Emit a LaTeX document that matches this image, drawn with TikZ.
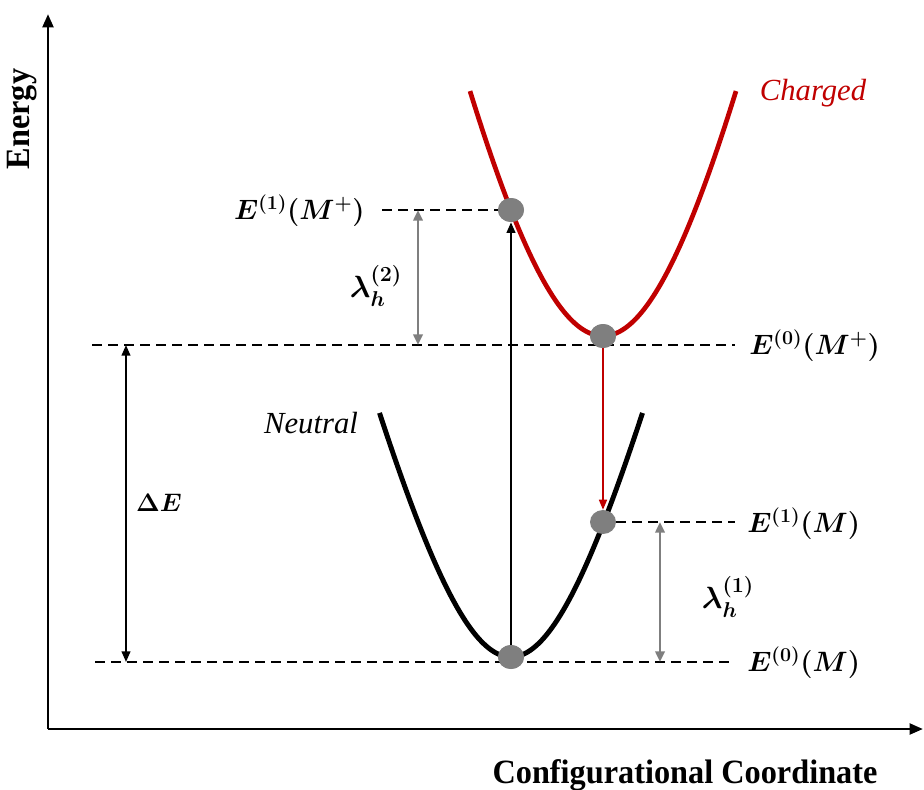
\documentclass[tikz,border=0pt]{standalone}
\usepackage{fix-cm}
\usepackage{amsmath,bm}
\usepackage{fontspec}
\setmainfont{Liberation Serif}
\usetikzlibrary{arrows.meta,shapes.geometric}
\definecolor{cred}{HTML}{C00000}
\definecolor{cgray}{HTML}{7F7F7F}
\tikzset{
  axisline/.style={line width=2.2pt,-{Triangle[length=10pt,width=8pt]}},
  dashline/.style={line width=1.8pt,dash pattern=on 7.5pt off 4.5pt},
  curveblack/.style={line width=3.7pt,black},
  curvered/.style={line width=3.5pt,cred},
  dot/.style={ellipse,fill=cgray,minimum width=19.5pt,minimum height=18pt,inner sep=0pt},
  grayarrow/.style={line width=1.9pt,cgray,{Triangle[length=8pt,width=7pt]}-{Triangle[length=8pt,width=7pt]}},
  blackarrow/.style={line width=1.5pt,black,{Triangle[length=8pt,width=6.5pt]}-{Triangle[length=8pt,width=6.5pt]}},
  uparrow/.style={line width=1.6pt,black,-{Triangle[length=8pt,width=6.5pt]}},
  redarrow/.style={line width=1.2pt,cred,-{Triangle[length=7.5pt,width=6pt]}},
  elabel/.style={font=\fontsize{21}{25}\selectfont,inner sep=0pt},
  delabel/.style={font=\fontsize{19}{23}\selectfont,inner sep=0pt},
  lamlabel/.style={font=\fontsize{23}{27}\selectfont,inner sep=0pt},
  curvelabel/.style={font=\fontsize{23}{27}\selectfont\itshape,inner sep=0pt},
  axislabel/.style={font=\fontsize{25.5}{30}\selectfont\bfseries,inner sep=0pt}
}
\begin{document}
\begin{tikzpicture}[x=0.75pt,y=-0.75pt]
\useasboundingbox (0,0) rectangle (924,789);
% axes
\coordinate (orig) at (48,729);
\coordinate (ytip) at (48,14);
\coordinate (xtip) at (923,729);
\draw[axisline] (orig) -- (ytip);
\draw[axisline] (orig) -- (xtip);
\node[axislabel,rotate=90] (ylab) at (22,119) {\scalebox{0.95}[1]{Energy}};
\node[axislabel,anchor=base] (xlab) at (685,783) {\scalebox{0.95}[1]{Configurational Coordinate}};
% curves
\draw[curveblack] plot[domain=-131.5:131.5,samples=90,smooth] ({511+\x},{657-437*(sqrt(1+(\x/110)*(\x/110))-1)});
\draw[curvered] plot[domain=-133:133,samples=90,smooth] ({603+\x},{336-728*(sqrt(1+(\x/150)*(\x/150))-1)});
\node[curvelabel] (neutral) at (311,423) {Neutral};
\node[curvelabel,text=cred] (charged) at (813,93) {Charged};
% dashed levels
\coordinate (l1a) at (382,210);
\coordinate (l2a) at (92,345);
\coordinate (l2b) at (735,345);
\coordinate (l3b) at (735,522);
\coordinate (l4a) at (95,662);
\coordinate (l4b) at (735,662);
\node[dot] (d1) at (511,210) {};
\node[dot] (d2) at (603,336) {};
\node[dot] (d3) at (603,522) {};
\node[dot] (d4) at (511,657) {};
\draw[dashline] (l1a) -- (d1.west);
\draw[dashline] (l2a) -- (l2b);
\draw[dashline] (d3.east) -- (l3b);
\draw[dashline] (l4a) -- (l4b);
\node[dot] at (d1) {};
\node[dot] at (d2) {};
\node[dot] at (d4) {};
% transitions
\draw[uparrow] (d4) -- (d1);
\draw[redarrow] (d2) -- (d3);
% energy differences
\coordinate (de1) at (126,345);
\coordinate (de2) at (126,662);
\draw[blackarrow] (de1) -- (de2);
\node[delabel] (dE) at (159,503) {$\bm{\Delta E}$};
\coordinate (lb1) at (418,210);
\coordinate (lb2) at (418,345);
\draw[grayarrow] (lb1) -- (lb2);
\node[lamlabel] (lam2) at (376,286) {$\bm{\lambda_h^{(2)}}$};
\coordinate (la1) at (660,522);
\coordinate (la2) at (660,662);
\draw[grayarrow] (la1) -- (la2);
\node[lamlabel] (lam1) at (728,597) {$\bm{\lambda_h^{(1)}}$};
% level labels
\node[elabel,anchor=east] (t1) at (365,211) {$\bm{E^{(1)}(M^{+})}$};
\node[elabel,anchor=west] (t2) at (749,346) {$\bm{E^{(0)}(M^{+})}$};
\node[elabel,anchor=west] (t3) at (747,524) {$\bm{E^{(1)}(M)}$};
\node[elabel,anchor=west] (t4) at (747,663) {$\bm{E^{(0)}(M)}$};
\end{tikzpicture}
\end{document}
